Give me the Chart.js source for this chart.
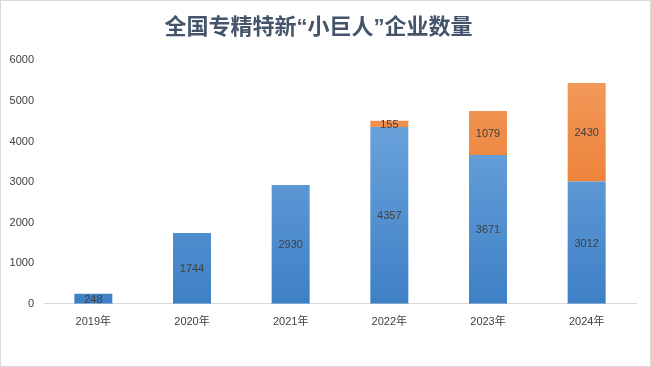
<!DOCTYPE html>
<html>
<head>
<meta charset="utf-8">
<script src="https://cdn.jsdelivr.net/npm/chart.js@4/dist/chart.umd.min.js"></script>
<style>
  html, body { margin: 0; padding: 0; background: #fff; }
  #wrap { position: relative; width: 649px; height: 365px; border: 1px solid #d9d9d9; }
</style>
</head>
<body>
<div id="wrap"><canvas id="chart"></canvas></div>
<script>
const years = ['2019年', '2020年', '2021年', '2022年', '2023年', '2024年'];
const baseCounts = [248, 1744, 2930, 4357, 3671, 3012];
const newCounts = [null, null, null, 155, 1079, 2430];
const yTicks = [0, 1000, 2000, 3000, 4000, 5000, 6000];

// vertical gradient over the plot area
function grad(top, bottom) {
    return function (ctx) {
        const area = ctx.chart.chartArea;
        if (!area) return bottom;
        const g = ctx.chart.ctx.createLinearGradient(0, area.top, 0, area.bottom);
        g.addColorStop(0, top);
        g.addColorStop(1, bottom);
        return g;
    };
}

// value labels in the middle of each segment
const barLabels = {
    id: 'barLabels',
    afterDatasetsDraw(chart) {
        const c = chart.ctx;
        c.save();
        c.font = '11px "Liberation Sans", "DejaVu Sans", sans-serif';
        c.fillStyle = '#404040';
        c.textAlign = 'center';
        c.textBaseline = 'middle';
        chart.data.datasets.forEach((ds, i) => {
            chart.getDatasetMeta(i).data.forEach((bar, j) => {
                const v = ds.data[j];
                if (v == null) return;
                c.fillText(String(v), bar.x, (bar.y + bar.base) / 2 + 1);
            });
        });
        c.restore();
    }
};

new Chart(document.getElementById('chart'), {
    type: 'bar',
    data: {
        labels: years,
        datasets: [
            {
                label: '存量',
                data: baseCounts,
                backgroundColor: grad('#7aafe3', '#3e80c6'),
                barPercentage: 0.77,
                categoryPercentage: 0.5
            },
            {
                label: '新增',
                data: newCounts,
                backgroundColor: grad('#f49d60', '#e56a15'),
                barPercentage: 0.77,
                categoryPercentage: 0.5
            }
        ]
    },
    options: {
        responsive: true,
        maintainAspectRatio: false,
        animation: false,
        layout: { padding: { left: 0, right: 14, top: 14, bottom: 33 } },
        plugins: {
            legend: { display: false },
            tooltip: { enabled: false },
            title: {
                display: true,
                text: '全国专精特新“小巨人”企业数量',
                color: '#44546a',
                font: { size: 22, weight: 'bold', family: '"Liberation Sans", "Noto Sans CJK SC", sans-serif' },
                padding: { top: 0, bottom: 19 }
            }
        },
        scales: {
            x: {
                stacked: true,
                grid: { display: false },
                border: { color: '#d9d9d9' },
                ticks: {
                    color: '#404040',
                    font: { size: 11, family: '"Liberation Sans", "Noto Sans CJK SC", sans-serif' },
                    padding: 4
                }
            },
            y: {
                stacked: true,
                min: 0,
                max: 6000,
                grid: { display: false },
                border: { display: false },
                afterBuildTicks: function (axis) {
                    axis.ticks = yTicks.map(v => ({ value: v }));
                },
                afterFit: function (axis) {
                    axis.width = 43;
                },
                ticks: {
                    color: '#404040',
                    font: { size: 11, family: '"Liberation Sans", sans-serif' },
                    padding: 2,
                    callback: v => String(v)
                }
            }
        }
    },
    plugins: [barLabels]
});
</script>
</body>
</html>
